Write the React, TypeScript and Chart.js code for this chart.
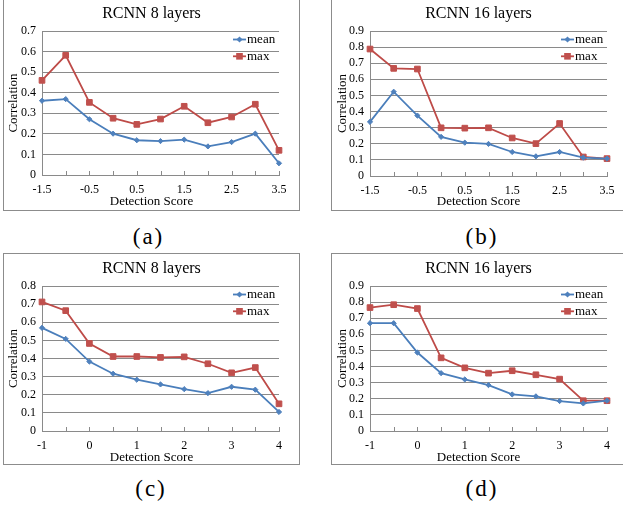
import React, { useEffect, useRef } from 'react';
import { Chart, registerables } from 'chart.js';

Chart.register(...registerables);

const FONT = '"Liberation Serif", "Times New Roman", Times, serif';

// ---------- data ----------
const scoresAB = ['-1.5', '-1', '-0.5', '0', '0.5', '1', '1.5', '2', '2.5', '3', '3.5'];
const scoresCD = ['-1', '-0.5', '0', '0.5', '1', '1.5', '2', '2.5', '3', '3.5', '4'];
const tickLabelsAB = ['-1.5', '-0.5', '0.5', '1.5', '2.5', '3.5'];
const tickLabelsCD = ['-1', '0', '1', '2', '3', '4'];

const meanA = [0.361, 0.369, 0.271, 0.201, 0.169, 0.165, 0.172, 0.139, 0.160, 0.201, 0.057];
const maxA = [0.460, 0.582, 0.353, 0.276, 0.246, 0.272, 0.334, 0.254, 0.282, 0.344, 0.120];
const meanB = [0.336, 0.523, 0.375, 0.243, 0.207, 0.199, 0.149, 0.122, 0.149, 0.114, 0.108];
const maxB = [0.788, 0.668, 0.664, 0.299, 0.297, 0.299, 0.236, 0.201, 0.326, 0.118, 0.108];
const meanC = [0.569, 0.508, 0.383, 0.316, 0.283, 0.257, 0.231, 0.209, 0.244, 0.228, 0.105];
const maxC = [0.712, 0.664, 0.483, 0.411, 0.411, 0.406, 0.409, 0.371, 0.321, 0.350, 0.150];
const meanD = [0.669, 0.669, 0.487, 0.359, 0.320, 0.285, 0.227, 0.215, 0.186, 0.171, 0.188];
const maxD = [0.766, 0.784, 0.760, 0.454, 0.392, 0.359, 0.374, 0.349, 0.322, 0.188, 0.188];

const yMaxA = 0.7;
const yMaxB = 0.9;
const yMaxC = 0.8;
const yMaxD = 0.9;

const seriesNames = ['mean', 'max'];
const titles = ['RCNN 8 layers', 'RCNN 16 layers', 'RCNN 8 layers', 'RCNN 16 layers'];
const captions = ['(a)', '(b)', '(c)', '(d)'];
const xAxisTitle = 'Detection Score';
const yAxisTitle = 'Correlation';

// ---------- styles ----------
const BLUE_LINE = '#4A7EBB';
const BLUE_MARK = '#4F81BD';
const RED_LINE = '#BE4B48';
const RED_MARK = '#C0504D';
const GRID = '#8a8a8a';
const AXIS = '#8a8a8a';
const BOX = '#8c8c8c';

type Geo = {
  box: { x: number; y: number; w: number; h: number };
  plot: { l: number; t: number; r: number; b: number };
  titleY: number;
  xTitleY: number;
  yTitleX: number;
  capX: number;
  capY: number;
};

const geoA: Geo = { box: { x: 3, y: -1, w: 297, h: 212 }, plot: { l: 42, t: 31, r: 279, b: 175 }, titleY: 13.5, xTitleY: 202, yTitleX: 13.3, capX: 148.5, capY: 238.5 };
const geoB: Geo = { box: { x: 331, y: -1, w: 295, h: 212 }, plot: { l: 370, t: 31, r: 607, b: 176 }, titleY: 13.5, xTitleY: 202, yTitleX: 342.3, capX: 482, capY: 238.5 };
const geoC: Geo = { box: { x: 3, y: 253, w: 297, h: 212 }, plot: { l: 42, t: 286, r: 279, b: 431 }, titleY: 268.5, xTitleY: 457.3, yTitleX: 13.3, capX: 151, capY: 491 };
const geoD: Geo = { box: { x: 331, y: 253, w: 295, h: 212 }, plot: { l: 370, t: 286, r: 607, b: 431 }, titleY: 268.5, xTitleY: 457.3, yTitleX: 342.3, capX: 482, capY: 491 };

const tickMarks = {
  id: 'innerTickMarks',
  beforeDatasetsDraw(chart: any) {
    const { ctx, chartArea, scales } = chart;
    const x = scales.x;
    ctx.save();
    ctx.strokeStyle = AXIS;
    ctx.lineWidth = 1;
    ctx.beginPath();
    for (let i = 0; i < x.ticks.length; i++) {
      const px = Math.round(x.getPixelForTick(i)) + 0.5;
      ctx.moveTo(px, chartArea.bottom);
      ctx.lineTo(px, chartArea.bottom - 4);
    }
    ctx.stroke();
    ctx.restore();
  },
};

const innerLegend = {
  id: 'innerLegend',
  afterDatasetsDraw(chart: any) {
    const { ctx, chartArea } = chart;
    const textX = chartArea.right - 32;
    chart.data.datasets.forEach((ds: any, i: number) => {
      const y = chartArea.top + 8.5 + i * 16.8;
      ctx.save();
      ctx.strokeStyle = ds.borderColor;
      ctx.lineWidth = ds.borderWidth;
      ctx.beginPath();
      ctx.moveTo(textX - 14, y);
      ctx.lineTo(textX - 1, y);
      ctx.stroke();
      const mx = textX - 7.5;
      ctx.fillStyle = ds.pointBackgroundColor;
      ctx.beginPath();
      if (ds.pointStyle === 'rectRot') {
        const r = ds.pointRadius + 0.5;
        ctx.moveTo(mx - r, y);
        ctx.lineTo(mx, y - r);
        ctx.lineTo(mx + r, y);
        ctx.lineTo(mx, y + r);
        ctx.closePath();
      } else {
        const s = ds.pointRadius * Math.SQRT1_2 + 0.5;
        ctx.rect(mx - s, y - s, 2 * s, 2 * s);
      }
      ctx.fill();
      ctx.fillStyle = '#000';
      ctx.font = `13px ${FONT}`;
      ctx.textAlign = 'left';
      ctx.textBaseline = 'middle';
      ctx.fillText(ds.label, textX, y);
      ctx.restore();
    });
  },
};

type PanelProps = {
  geo: Geo;
  labels: string[];
  shown: string[];
  mean: number[];
  max: number[];
  yMax: number;
  title: string;
  caption: string;
};

function Panel({ geo, labels, shown, mean, max, yMax, title, caption }: PanelProps) {
  const ref = useRef<HTMLCanvasElement>(null);
  const cx = geo.box.x + 1;
  const cy = geo.box.y + 1;
  const cw = geo.box.w - 2;
  const ch = geo.box.h - 2;

  useEffect(() => {
    if (!ref.current) return;
    const left = geo.plot.l - cx;
    const right = cx + cw - geo.plot.r;
    const top = geo.plot.t - cy;
    const bottom = cy + ch - geo.plot.b;

    const tLH = 16 * 1.2;
    const tPadTop = geo.titleY - cy - tLH / 2;
    const tPadBot = top - tPadTop - tLH;

    // x-axis title drawn as a zero-height bottom subtitle, centred on the panel
    const sLH = 13 * 1.2;
    const sPadBot = cy + ch - geo.xTitleY - sLH / 2;
    const sPadTop = -(sLH + sPadBot);
    const yTitlePad = geo.yTitleX - cx - sLH / 2;

    const chart = new Chart(ref.current, {
      type: 'line',
      data: {
        labels,
        datasets: [
          {
            label: seriesNames[0],
            data: mean,
            borderColor: BLUE_LINE,
            backgroundColor: BLUE_MARK,
            borderWidth: 1.8,
            pointStyle: 'rectRot',
            pointRadius: 2.6,
            pointBackgroundColor: BLUE_MARK,
            pointBorderColor: BLUE_MARK,
            pointBorderWidth: 1,
            tension: 0,
            yAxisID: 'y',
          } as any,
          {
            label: seriesNames[1],
            data: max,
            borderColor: RED_LINE,
            backgroundColor: RED_MARK,
            borderWidth: 1.8,
            pointStyle: 'rect',
            pointRadius: 4,
            pointBackgroundColor: RED_MARK,
            pointBorderColor: RED_MARK,
            pointBorderWidth: 1,
            tension: 0,
            yAxisID: 'y',
          } as any,
        ],
      },
      options: {
        responsive: false,
        animation: false,
        events: [],
        layout: { padding: 0 },
        plugins: {
          legend: { display: false },
          tooltip: { enabled: false },
          title: {
            display: true,
            text: title,
            color: '#000',
            font: { family: FONT, size: 16, weight: 'normal', lineHeight: 1.2 },
            padding: { top: tPadTop, bottom: tPadBot },
          },
          subtitle: {
            display: true,
            position: 'bottom',
            text: xAxisTitle,
            color: '#000',
            font: { family: FONT, size: 13, weight: 'normal', lineHeight: 1.2 },
            padding: { top: sPadTop, bottom: sPadBot },
          },
        },
        scales: {
          x: {
            type: 'category',
            offset: false,
            grid: { display: false, drawTicks: false },
            border: { display: true, color: AXIS, width: 1 },
            ticks: {
              autoSkip: false,
              maxRotation: 0,
              padding: 8,
              color: '#000',
              font: { family: FONT, size: 12 },
              callback: (_v: any, i: number) => (shown.includes(labels[i]) ? labels[i] : ''),
            },
            afterFit: (s: any) => {
              s.height = bottom;
            },
          },
          y: {
            type: 'linear',
            min: 0,
            max: yMax,
            grid: { color: GRID, lineWidth: 1, drawTicks: false },
            border: { display: true, color: AXIS, width: 1 },
            ticks: {
              autoSkip: false,
              stepSize: 0.1,
              padding: 6,
              color: '#000',
              font: { family: FONT, size: 12 },
              callback: (v: any) => (Number(v) === 0 ? '0' : Number(v).toFixed(1)),
            },
            title: {
              display: true,
              text: yAxisTitle,
              color: '#000',
              font: { family: FONT, size: 13, lineHeight: 1.2 },
              padding: { top: yTitlePad, bottom: 0 },
            },
            afterFit: (s: any) => {
              s.width = left;
            },
          },
          yr: {
            type: 'linear',
            position: 'right',
            display: true,
            grid: { display: false, drawTicks: false },
            border: { display: false },
            ticks: { display: false },
            afterFit: (s: any) => {
              s.width = right;
            },
          },
        },
      } as any,
      plugins: [tickMarks, innerLegend],
    });
    return () => chart.destroy();
  }, []);

  return (
    <>
      <div
        style={{
          position: 'absolute',
          left: geo.box.x,
          top: geo.box.y,
          width: geo.box.w,
          height: geo.box.h,
          border: `1px solid ${BOX}`,
          boxSizing: 'border-box',
        }}
      />
      <canvas
        ref={ref}
        width={cw}
        height={ch}
        style={{ position: 'absolute', left: cx, top: cy, width: cw, height: ch, display: 'block' }}
      />
      <div
        style={{
          position: 'absolute',
          left: geo.capX - 40,
          top: geo.capY - 17,
          width: 80,
          height: 30,
          lineHeight: '30px',
          textAlign: 'center',
          fontFamily: FONT,
          fontSize: 23,
          letterSpacing: 2,
          color: '#000',
        }}
      >
        {caption}
      </div>
    </>
  );
}

export default function App() {
  return (
    <div
      style={{
        position: 'absolute',
        left: 0,
        top: 0,
        width: 623,
        height: 507,
        overflow: 'hidden',
        background: '#fff',
      }}
    >
      <Panel geo={geoA} labels={scoresAB} shown={tickLabelsAB} mean={meanA} max={maxA} yMax={yMaxA} title={titles[0]} caption={captions[0]} />
      <Panel geo={geoB} labels={scoresAB} shown={tickLabelsAB} mean={meanB} max={maxB} yMax={yMaxB} title={titles[1]} caption={captions[1]} />
      <Panel geo={geoC} labels={scoresCD} shown={tickLabelsCD} mean={meanC} max={maxC} yMax={yMaxC} title={titles[2]} caption={captions[2]} />
      <Panel geo={geoD} labels={scoresCD} shown={tickLabelsCD} mean={meanD} max={maxD} yMax={yMaxD} title={titles[3]} caption={captions[3]} />
    </div>
  );
}
